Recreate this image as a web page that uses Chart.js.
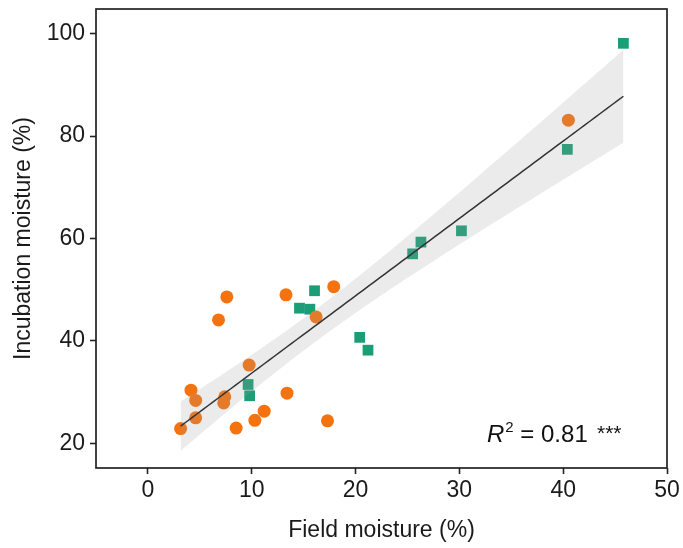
<!DOCTYPE html>
<html>
<head>
<meta charset="utf-8">
<script src="https://cdn.jsdelivr.net/npm/chart.js@4/dist/chart.umd.min.js"></script>
<style>
  html, body { margin: 0; padding: 0; background: #fff; }
  #wrap { width: 683px; height: 548px; }
</style>
</head>
<body>
<div id="wrap"><canvas id="moistureChart" width="683" height="548"></canvas></div>
<script>
// orange circles
const orangeX = [7.6, 13.3, 17.9, 6.8, 16.2, 9.75, 4.15, 4.6, 7.4, 7.3, 13.4, 4.6, 11.2, 10.3, 8.5, 3.15, 17.3, 40.5];
const orangeY = [48.6, 49.0, 50.6, 44.1, 44.7, 35.3, 30.4, 28.4, 29.1, 27.9, 29.8, 25.0, 26.3, 24.5, 23.0, 22.9, 24.4, 83.1];
// green squares
const greenX = [45.8, 40.4, 30.2, 26.3, 25.5, 16.05, 14.6, 15.6, 20.4, 21.2, 9.65, 9.8];
const greenY = [98.1, 77.4, 61.5, 59.3, 57.0, 49.8, 46.4, 46.2, 40.7, 38.2, 31.5, 29.3];

const xTicks = [0, 10, 20, 30, 40, 50];
const yTicks = [20, 40, 60, 80, 100];

const toPts = (xs, ys) => xs.map((x, i) => ({ x: x, y: ys[i] }));

// linear fit with 95% confidence band
const allX = orangeX.concat(greenX);
const allY = orangeY.concat(greenY);
const n = allX.length;
const mx = allX.reduce((a, b) => a + b, 0) / n;
const my = allY.reduce((a, b) => a + b, 0) / n;
let sxx = 0, sxy = 0;
allX.forEach((x, i) => { sxx += (x - mx) ** 2; sxy += (x - mx) * (allY[i] - my); });
const slope = sxy / sxx;
const icpt = my - slope * mx;
let sse = 0;
allX.forEach((x, i) => { sse += (allY[i] - icpt - slope * x) ** 2; });
const s = Math.sqrt(sse / (n - 2));
const tval = 2.048;
const xmin = Math.min(...allX), xmax = Math.max(...allX);

const fitLine = [], upper = [], lower = [];
for (let k = 0; k <= 80; k++) {
  const x = xmin + (xmax - xmin) * k / 80;
  const y = icpt + slope * x;
  const se = s * Math.sqrt(1 / n + (x - mx) ** 2 / sxx);
  fitLine.push({ x: x, y: y });
  upper.push({ x: x, y: y + tval * se });
  lower.push({ x: x, y: y - tval * se });
}

const FONT = '"Liberation Sans", Arial, sans-serif';

const frame = {
  id: 'frame',
  afterDraw(chart) {
    const { ctx, chartArea: a } = chart;
    ctx.save();
    ctx.strokeStyle = '#222';
    ctx.lineWidth = 1.7;
    ctx.strokeRect(a.left, a.top, a.right - a.left, a.bottom - a.top);

    // R2 label
    ctx.fillStyle = '#111';
    ctx.textBaseline = 'alphabetic';
    let x = 487, y = 442;
    ctx.font = 'italic 24px ' + FONT;
    ctx.fillText('R', x, y);
    x += ctx.measureText('R').width;
    ctx.font = '15px ' + FONT;
    ctx.fillText('2', x + 1, y - 10);
    x += ctx.measureText('2').width + 1;
    ctx.font = '24px ' + FONT;
    ctx.fillText(' = 0.81', x, y);
    ctx.font = '21px ' + FONT;
    ctx.fillText('***', 597, y - 2);
    ctx.restore();
  }
};

const ctx = document.getElementById('moistureChart').getContext('2d');

const chart = new Chart(ctx, {
  type: 'scatter',
  data: {
    datasets: [
      {
        label: 'fit',
        type: 'line',
        data: fitLine,
        borderColor: '#333',
        borderWidth: 1.5,
        pointRadius: 0,
        fill: false,
        order: -1
      },
      {
        label: 'upper',
        type: 'line',
        data: upper,
        borderWidth: 0,
        pointRadius: 0,
        backgroundColor: 'rgba(153,153,153,0.2)',
        fill: '+1',
        order: 0
      },
      {
        label: 'lower',
        type: 'line',
        data: lower,
        borderWidth: 0,
        pointRadius: 0,
        fill: false,
        order: 0
      },
      {
        label: 'orange',
        data: toPts(orangeX, orangeY),
        pointStyle: 'circle',
        pointRadius: 6.5,
        backgroundColor: '#F5730F',
        borderWidth: 0,
        order: 1
      },
      {
        label: 'green',
        data: toPts(greenX, greenY),
        pointStyle: 'rect',
        pointRadius: 7.6,
        backgroundColor: '#1B9E77',
        borderWidth: 0,
        order: 1
      }
    ]
  },
  options: {
    responsive: false,
    animation: false,
    layout: { padding: { top: 9, right: 16, left: 0, bottom: 0 } },
    plugins: { legend: { display: false }, tooltip: { enabled: false } },
    scales: {
      x: {
        type: 'linear',
        min: -5,
        max: 50,
        afterFit: sc => { sc.height = 80; sc.paddingLeft = 0; sc.paddingRight = 0; },
        afterBuildTicks: sc => { sc.ticks = xTicks.map(v => ({ value: v })); },
        grid: { drawOnChartArea: false, drawTicks: true, tickLength: 6, tickColor: '#222', tickWidth: 1.6 },
        border: { display: false },
        ticks: { color: '#1a1a1a', padding: 3, font: { size: 23, family: FONT } },
        title: {
          display: true,
          text: 'Field moisture (%)',
          color: '#1a1a1a',
          padding: { top: 0, bottom: 4 },
          font: { size: 23, family: FONT }
        }
      },
      y: {
        type: 'linear',
        min: 15.2,
        max: 104.8,
        afterFit: sc => { sc.width = 96; sc.paddingTop = 0; sc.paddingBottom = 0; },
        afterBuildTicks: sc => { sc.ticks = yTicks.map(v => ({ value: v })); },
        grid: { drawOnChartArea: false, drawTicks: true, tickLength: 6, tickColor: '#222', tickWidth: 1.6 },
        border: { display: false },
        ticks: { color: '#1a1a1a', padding: 5, font: { size: 23, family: FONT } },
        title: {
          display: true,
          text: 'Incubation moisture (%)',
          color: '#1a1a1a',
          padding: { top: 10, bottom: 0 },
          font: { size: 23, family: FONT }
        }
      }
    }
  },
  plugins: [frame]
});
</script>
</body>
</html>
